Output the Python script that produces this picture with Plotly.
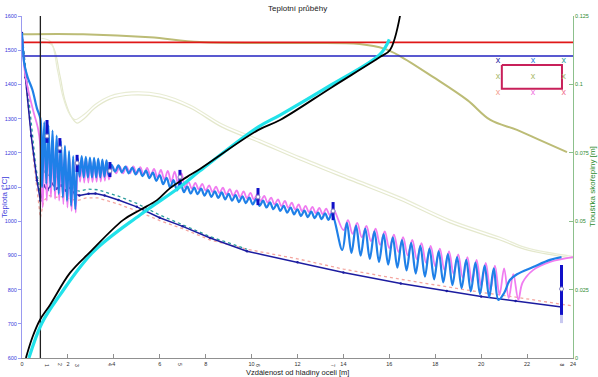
import plotly.graph_objects as go

# ---------------- data ----------------
xticks = [0, 2, 4, 6, 8, 10, 12, 14, 16, 18, 20, 22, 24]
y2ticks = [0, 0.025, 0.05, 0.075, 0.1, 0.125]
y2ticktext = ["0", "0.025", "0.05", "0.075", "0.1", "0.125"]

red_level = 1523
blue_level = 1483

olive_x = [0, 2.66, 5.57, 7.75, 12.1, 14.7, 15.8, 16.46, 17.9, 19.4, 20.4, 21.56, 22.56, 23.74]
olive_T = [1547, 1547, 1538, 1524, 1521, 1518, 1504, 1483, 1422, 1354, 1296, 1267, 1237, 1202]

faint1_x = [0.85, 1.31, 1.65, 1.87, 2.18, 2.4, 2.74, 3.18, 3.83, 4.79, 6.01, 7.32, 8.71, 10.37, 12.11, 14.29, 16.46, 18.64, 20.82, 21.99, 24]
faint1_T = [1525, 1515, 1427, 1354, 1302, 1287, 1302, 1331, 1357, 1369, 1363, 1331, 1275, 1229, 1179, 1120, 1062, 995, 945, 916, 892]
faint2_x = [0.85, 1.25, 1.55, 1.78, 2.08, 2.3, 2.7, 3.18, 3.83, 4.79, 6.01, 7.32, 8.71, 10.37, 12.11, 14.29, 16.46, 18.64, 20.82, 21.99, 24]
faint2_T = [1535, 1525, 1440, 1365, 1312, 1297, 1312, 1341, 1366, 1378, 1372, 1340, 1284, 1238, 1188, 1129, 1071, 1004, 953, 922, 897]

navy_x = [0, 0.15, 0.4, 0.65, 0.8, 0.95, 1.1, 1.3, 1.5, 1.7, 1.9, 2.1, 2.3, 2.5, 2.9, 3.2, 3.6, 4.2, 5.0, 6.0, 7.0, 8.2, 9.8, 12, 14, 16.5, 18.5, 20, 21.5, 23.5]
navy_T = [1550, 1420, 1250, 1120, 1060, 1105, 1090, 1110, 1095, 1105, 1090, 1098, 1080, 1075, 1080, 1081, 1075, 1062, 1042, 1010, 985, 951, 912, 880, 850, 818, 796, 780, 767, 749]
salmon_x = [0, 0.2, 0.5, 0.8, 0.95, 1.2, 1.5, 1.8, 2.1, 2.4, 2.8, 3.3, 4.2, 5.0, 6.0, 7.0, 8.2, 9.8, 12, 14, 16.5, 18.5, 20, 21.5, 24]
salmon_T = [1550, 1380, 1180, 1010, 1060, 1075, 1070, 1072, 1065, 1060, 1068, 1068, 1050, 1030, 1002, 978, 945, 918, 890, 860, 830, 808, 792, 778, 752]
teal_x = [0, 0.3, 0.6, 0.8, 0.95, 1.1, 1.3, 1.5, 1.7, 1.9, 2.1, 2.3, 2.5, 2.9, 3.3, 4.2, 5.0, 6.0, 7.0, 8.2, 9.8]
teal_T = [1550, 1350, 1160, 1080, 1150, 1125, 1155, 1130, 1150, 1125, 1135, 1090, 1088, 1094, 1092, 1073, 1052, 1018, 990, 955, 918]

# surface temperature (blue) by segment
blue_x_A = [0, 0.1, 0.25, 0.45, 0.65, 0.8]
blue_T_A = [1550, 1460, 1420, 1385, 1330, 1300]
blue_x_B = [0.88, 0.97, 1.06, 1.15, 1.24, 1.33, 1.42, 1.51, 1.60, 1.69, 1.78, 1.87, 1.96, 2.05, 2.14, 2.23, 2.32]
blue_T_B = [1100, 1290, 1110, 1280, 1100, 1265, 1090, 1250, 1080, 1235, 1070, 1220, 1060, 1205, 1045, 1190, 1035]
blue_x_C = [2.42, 2.51, 2.60, 2.69, 2.78, 2.87, 2.96, 3.05, 3.14, 3.23, 3.32, 3.41, 3.50, 3.59, 3.68, 3.77]
blue_T_C = [1185, 1130, 1190, 1128, 1188, 1128, 1186, 1128, 1185, 1128, 1183, 1128, 1180, 1130, 1178, 1135]
blue_x_D = [3.9, 4.05, 4.2, 4.35, 4.5, 4.65, 4.8, 4.95, 5.1, 5.25, 5.4, 5.55, 5.7, 5.85, 6.0, 6.15, 6.3, 6.45, 6.6, 6.75, 6.9]
blue_T_D = [1165, 1145, 1163, 1143, 1160, 1140, 1157, 1137, 1153, 1132, 1148, 1126, 1142, 1118, 1135, 1108, 1127, 1098, 1120, 1090, 1115]
blue_x_E = [7.05, 7.2, 7.35, 7.5, 7.65, 7.8, 7.95, 8.1, 8.25, 8.4, 8.55, 8.7, 8.85, 9.0, 9.15, 9.3, 9.45, 9.6, 9.75, 9.9, 10.05, 10.2,
            10.35, 10.5, 10.65, 10.8, 10.95, 11.1, 11.25, 11.4, 11.55, 11.7, 11.85, 12.0, 12.15, 12.3, 12.45, 12.6, 12.75, 12.9, 13.05, 13.2, 13.35, 13.5]
blue_T_E = [1085, 1101, 1081, 1098, 1079, 1095, 1075, 1091, 1071, 1087, 1068, 1084, 1064, 1080, 1060, 1076, 1056, 1073, 1053, 1069, 1049, 1065,
            1045, 1060, 1040, 1055, 1035, 1050, 1030, 1045, 1025, 1040, 1020, 1035, 1015, 1031, 1012, 1028, 1009, 1025, 1006, 1023, 1004, 1022]
blue_x_F = [13.95, 14.15, 14.35, 14.55, 14.75, 14.95, 15.15, 15.35, 15.55, 15.75, 15.95, 16.15, 16.35, 16.55, 16.75, 16.95, 17.15, 17.35,
            17.55, 17.75, 17.95, 18.15, 18.35, 18.55, 18.75, 18.95, 19.15, 19.35, 19.55, 19.75, 19.95, 20.15, 20.35, 20.55, 20.75]
blue_T_F = [916, 995, 907, 987, 899, 978, 890, 970, 881, 962, 873, 953, 864, 945, 856, 937, 847, 928,
            838, 920, 830, 912, 821, 904, 813, 895, 804, 887, 795, 879, 787, 870, 778, 862, 770]
blue_x_G = [21.0, 21.25, 21.56, 22.26, 23.0, 23.5]
blue_T_G = [790, 828, 845, 866, 887, 895]

# pink (violet) temperature by segment
pink_x_A = [0, 0.1, 0.25, 0.5, 0.7, 0.8]
pink_T_A = [1550, 1450, 1390, 1320, 1270, 1220]
pink_x_B = [0.9, 0.99, 1.08, 1.17, 1.26, 1.35, 1.44, 1.53, 1.62, 1.71, 1.80, 1.89, 1.98, 2.07, 2.16, 2.25, 2.34]
pink_T_B = [1040, 1250, 1060, 1240, 1070, 1230, 1065, 1220, 1060, 1210, 1050, 1195, 1040, 1185, 1030, 1175, 1025]
pink_x_C = [2.44, 2.53, 2.62, 2.71, 2.80, 2.89, 2.98, 3.07, 3.16, 3.25, 3.34, 3.43, 3.52, 3.61, 3.70, 3.79]
pink_T_C = [1178, 1115, 1182, 1113, 1180, 1113, 1178, 1114, 1177, 1115, 1175, 1116, 1172, 1118, 1170, 1122]
pink_x_D = [3.95, 4.1, 4.25, 4.4, 4.55, 4.7, 4.85, 5.0, 5.15, 5.3, 5.45, 5.6, 5.75, 5.9, 6.05, 6.2, 6.35, 6.5, 6.65, 6.8, 6.95]
pink_T_D = [1160, 1140, 1160, 1140, 1160, 1140, 1160, 1138, 1158, 1136, 1156, 1133, 1153, 1128, 1150, 1122, 1147, 1115, 1145, 1110, 1140]
pink_x_E = [7.1, 7.25, 7.4, 7.55, 7.7, 7.85, 8.0, 8.15, 8.3, 8.45, 8.6, 8.75, 8.9, 9.05, 9.2, 9.35, 9.5, 9.65, 9.8, 9.95, 10.1, 10.25,
            10.4, 10.55, 10.7, 10.85, 11.0, 11.15, 11.3, 11.45, 11.6, 11.75, 11.9, 12.05, 12.2, 12.35, 12.5, 12.65, 12.8, 12.95, 13.1, 13.25, 13.4, 13.55]
pink_T_E = [1099, 1115, 1095, 1112, 1093, 1109, 1089, 1105, 1085, 1101, 1082, 1098, 1078, 1094, 1074, 1090, 1070, 1087, 1067, 1083, 1063, 1079,
            1059, 1074, 1054, 1069, 1049, 1064, 1044, 1059, 1039, 1054, 1034, 1049, 1029, 1045, 1026, 1042, 1023, 1039, 1020, 1037, 1018, 1036]
pink_x_F = [14.0, 14.2, 14.4, 14.6, 14.8, 15.0, 15.2, 15.4, 15.6, 15.8, 16.0, 16.2, 16.4, 16.6, 16.8, 17.0, 17.2, 17.4,
            17.6, 17.8, 18.0, 18.2, 18.4, 18.6, 18.8, 19.0, 19.2, 19.4, 19.6, 19.8, 20.0, 20.2, 20.4, 20.6, 20.8]
pink_T_F = [974, 1003, 963, 995, 953, 986, 942, 978, 931, 970, 921, 961, 910, 953, 900, 945, 889, 936,
            878, 928, 868, 920, 857, 912, 846, 903, 834, 895, 822, 887, 811, 878, 798, 870, 785]
pink_x_G = [21.0, 21.2, 21.4, 21.62, 21.8, 22.26, 23.0, 24.0]
pink_T_G = [862, 775, 845, 770, 820, 857, 881, 895]

# roll markers
mark_x = [1.09, 1.65, 2.4, 3.83, 6.88, 10.28, 13.55, 23.5]
mark_lo = [1229, 1200, 1144, 1129, 1106, 1047, 1003, 726]
mark_hi = [1296, 1243, 1194, 1173, 1150, 1097, 1056, 872]
mark_mid = [1249, 1214, 1170, 1147, 1129, 1071, 1030, 802]
mark_labels = ["1", "2", "3", "4", "5", "6", "7", "8"]
mark8_tail = [702, 726]

# shell thickness (right axis)
black_x = [0.17, 0.45, 0.78, 1.22, 2.09, 2.96, 4.4, 5.14, 5.88, 6.45, 7.19, 7.75, 10.28, 11.24, 13.5, 15.59, 16.03, 16.55]
black_s = [0.0, 0.0075, 0.0139, 0.0194, 0.0311, 0.0387, 0.0504, 0.0541, 0.0577, 0.0621, 0.0662, 0.0691, 0.0833, 0.087, 0.099, 0.110, 0.1126, 0.129]
cyan_x = [0.3, 0.87, 1.65, 3.09, 5.14, 6.88, 7.75, 10.28, 11.24, 13.5, 15.59, 16.0]
cyan_s = [0.0, 0.0128, 0.023, 0.0387, 0.0523, 0.0625, 0.0684, 0.0844, 0.0888, 0.1, 0.111, 0.1165]

vline_x = 0.8

# legend-like box and x marks
box_x = [20.9, 23.52, 23.52, 20.9, 20.9]
box_T = [1457, 1457, 1387, 1387, 1457]
xm_x = [20.73, 22.26, 23.6, 20.73, 22.26, 23.6, 20.73, 22.26, 23.6]
xm_T = [1468, 1468, 1468, 1421, 1421, 1421, 1375, 1375, 1375]
xm_col = ["#1c1ca0", "#2a80e0", "#2a9d9d", "#a8b868", "#a8b868", "#a8b868", "#f4a090", "#f070e0", "#f07090"]

# ---------------- figure ----------------
fig = go.Figure()

def add_line(x, y, color, width, dash=None, shape="linear", yaxis="y", mode="lines", marker=None):
    fig.add_trace(go.Scatter(x=x, y=y, mode=mode, yaxis=yaxis,
                             line=dict(color=color, width=width, dash=dash, shape=shape),
                             marker=marker, hoverinfo="skip"))

add_line(faint1_x, faint1_T, "#e4e8cc", 1.2, shape="spline")
add_line(faint2_x, faint2_T, "#e8ecd4", 1.2, shape="spline")
add_line(olive_x, olive_T, "#bcbc76", 2, shape="spline")
add_line([0, 24], [red_level, red_level], "#e01818", 1.6)
add_line([0, 24], [blue_level, blue_level], "#2222c0", 1.6)

add_line(salmon_x, salmon_T, "#f4a6a0", 1.3, dash="dot")
add_line(teal_x, teal_T, "#2a9d9d", 1.3, dash="dot")
add_line(navy_x, navy_T, "#1c1ca0", 1.5, mode="lines+markers", marker=dict(size=2.5, color="#1c1ca0"))

pink_x = pink_x_A + pink_x_B + pink_x_C + pink_x_D + pink_x_E + pink_x_F + pink_x_G
pink_T = pink_T_A + pink_T_B + pink_T_C + pink_T_D + pink_T_E + pink_T_F + pink_T_G
blue_x = blue_x_A + blue_x_B + blue_x_C + blue_x_D + blue_x_E + blue_x_F + blue_x_G
blue_T = blue_T_A + blue_T_B + blue_T_C + blue_T_D + blue_T_E + blue_T_F + blue_T_G
add_line(pink_x, pink_T, "#f07cf0", 1.8, shape="spline")
add_line(blue_x, blue_T, "#1f80e8", 2.2, shape="spline")

# marker bars
bx, by = [], []
for xv, lo, hi in zip(mark_x, mark_lo, mark_hi):
    bx += [xv, xv, None]
    by += [lo, hi, None]
add_line([mark_x[-1], mark_x[-1]], mark8_tail, "#c8c8f0", 3)
add_line(bx, by, "#1010c8", 3)
fig.add_trace(go.Scatter(x=mark_x, y=mark_mid, mode="markers", hoverinfo="skip",
                         marker=dict(size=4, color="white", line=dict(color="#8080c0", width=1))))

# shell thickness
add_line(cyan_x, cyan_s, "#22e2ea", 3.2, shape="spline", yaxis="y2")
add_line(black_x, black_s, "#000000", 1.8, shape="spline", yaxis="y2")

add_line([vline_x, vline_x], [600, 1600], "#202020", 1.3)

add_line(box_x, box_T, "#c8205a", 2)
fig.add_trace(go.Scatter(x=xm_x, y=xm_T, mode="text", text=["x"] * len(xm_x), hoverinfo="skip",
                         textfont=dict(color=xm_col, size=9, family="Liberation Sans")))

font = "Liberation Sans, Arial, sans-serif"
fig.update_layout(
    width=598, height=377, autosize=False,
    margin=dict(l=22, r=25, t=16, b=19, autoexpand=False),
    plot_bgcolor="white", paper_bgcolor="white",
    showlegend=False,
    font=dict(family=font, size=6),
    xaxis=dict(range=[0, 24], tickvals=xticks, ticks="inside", ticklen=4, tickcolor="#909090",
               showline=True, linecolor="#909090", linewidth=1, showgrid=False, zeroline=False,
               automargin=False, tickfont=dict(size=5.5, color="#303030")),
    yaxis=dict(range=[600, 1600], dtick=100, ticks="outside", ticklen=3, tickcolor="#9a9af0",
               showline=True, linecolor="#9a9af0", linewidth=1, showgrid=False, zeroline=False,
               automargin=False, tickfont=dict(size=5.5, color="#3c3cdc")),
    yaxis2=dict(range=[0, 0.125], overlaying="y", side="right", tickvals=y2ticks, ticktext=y2ticktext,
                ticks="inside", ticklen=4, tickcolor="#8cc08c", showline=True, linecolor="#8cc08c",
                linewidth=1, showgrid=False, zeroline=False, automargin=False,
                tickfont=dict(size=5.5, color="#2e8b2e")),
)

ann = [
    dict(text="Teplotní průběhy", xref="paper", yref="paper", x=0.5, y=1, yshift=8, yanchor="middle",
         showarrow=False, font=dict(size=8, color="#202020")),
    dict(text="Vzdálenost od hladiny oceli [m]", xref="paper", yref="paper", x=0.5, y=0, yshift=-14,
         yanchor="middle", showarrow=False, font=dict(size=7.5, color="#202020")),
    dict(text="Teplota [°C]", xref="paper", yref="paper", x=0, xshift=-17, y=0.468, textangle=-90,
         xanchor="center", yanchor="middle", showarrow=False, font=dict(size=8, color="#3c3cdc")),
    dict(text="Tloušťka skořepiny [m]", xref="paper", yref="paper", x=1, xshift=19, y=0.5, textangle=-90,
         xanchor="center", yanchor="middle", showarrow=False, font=dict(size=8, color="#2e8b2e")),
]
for xv, lab in zip(mark_x, mark_labels):
    ann.append(dict(text=lab, x=xv, xref="x", yref="paper", y=0, yshift=-7, textangle=90,
                    yanchor="middle", showarrow=False, font=dict(size=5, color="#303030")))
fig.update_layout(annotations=ann)

fig.write_html("out.html", config={"displayModeBar": False},
               post_script="document.body.style.margin='0';")
